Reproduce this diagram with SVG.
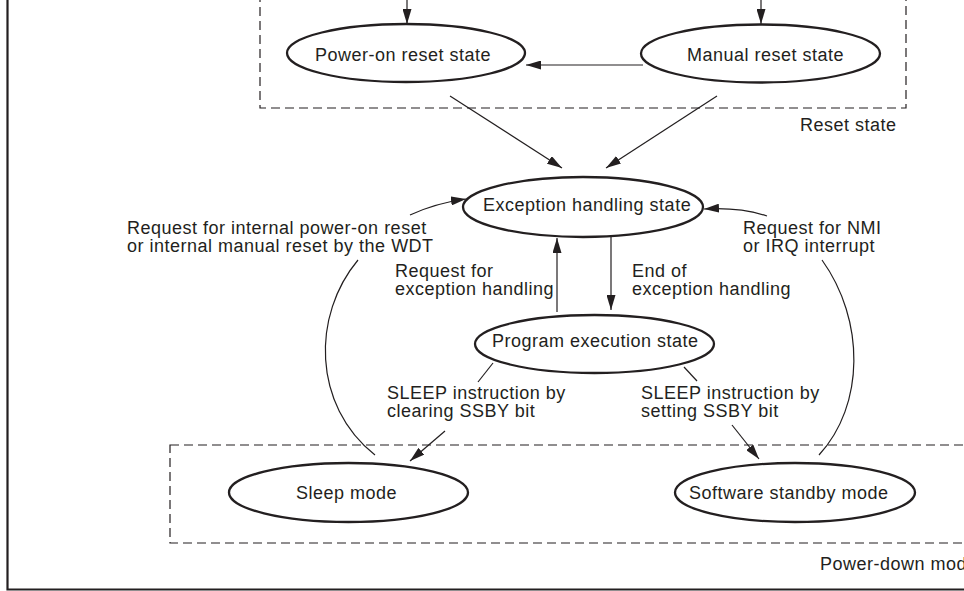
<svg xmlns="http://www.w3.org/2000/svg" width="964" height="591" viewBox="0 0 964 591">
<style>
text{font-family:"Liberation Sans",Arial,Helvetica,sans-serif;font-size:18px;letter-spacing:0.5px;fill:#231f20}
.st{fill:#fff;stroke:#231f20;stroke-width:2.3}
.cn{fill:none;stroke:#231f20;stroke-width:1.2}
.dash{fill:none;stroke:#231f20;stroke-width:1.2;stroke-dasharray:9 5}
.frame{fill:none;stroke:#231f20;stroke-width:2.2}
</style>
<defs>
<marker id="ah" viewBox="0 0 15 9" refX="15" refY="4.5" markerWidth="15" markerHeight="9" markerUnits="userSpaceOnUse" orient="auto">
<path d="M0,0 L15,4.5 L0,9 z" fill="#231f20"/>
</marker>
</defs>
<rect width="964" height="591" fill="#fff"/>
<g id="frame">
<path class="frame" d="M7.5,0 V589.5 H964"/>
</g>
<g id="reset-group">
<rect class="dash" x="260" y="-20" width="646" height="128"/>
<text x="800" y="131">Reset state</text>
</g>
<g id="powerdown-group">
<rect class="dash" x="170" y="445" width="830" height="98"/>
<text x="820" y="570">Power-down mode</text>
</g>
<g id="connectors">
<path class="cn" d="M407,0 V24" marker-end="url(#ah)"/>
<path class="cn" d="M761,0 V24" marker-end="url(#ah)"/>
<path class="cn" d="M643,65 H526" marker-end="url(#ah)"/>
<path class="cn" d="M450,96 L562,168" marker-end="url(#ah)"/>
<path class="cn" d="M717,96 L606,168" marker-end="url(#ah)"/>
<path class="cn" d="M557,312 V238" marker-end="url(#ah)"/>
<path class="cn" d="M611,237 V310" marker-end="url(#ah)"/>
<path class="cn" d="M375,455 C312,405 312,315 358,260"/>
<path class="cn" d="M410,215 Q436,203 466,199" marker-end="url(#ah)"/>
<path class="cn" d="M819,455 C865,405 865,320 822,260"/>
<path class="cn" d="M767,216 Q740,207 704,209" marker-end="url(#ah)"/>
<path class="cn" d="M493,363 L478,382"/>
<path class="cn" d="M445,431 L410,461" marker-end="url(#ah)"/>
<path class="cn" d="M684,367 L697,381"/>
<path class="cn" d="M732,425 L759,459" marker-end="url(#ah)"/>
<text x="127" y="234">Request for internal power-on reset<tspan x="127" dy="18">or internal manual reset by the WDT</tspan></text>
<text x="395" y="277">Request for<tspan x="395" dy="18">exception handling</tspan></text>
<text x="632" y="277">End of<tspan x="632" dy="18">exception handling</tspan></text>
<text x="743" y="234">Request for NMI<tspan x="743" dy="18">or IRQ interrupt</tspan></text>
<text x="387" y="399">SLEEP instruction by<tspan x="387" dy="18">clearing SSBY bit</tspan></text>
<text x="641" y="399">SLEEP instruction by<tspan x="641" dy="18">setting SSBY bit</tspan></text>
</g>
<g id="power-on-reset">
<ellipse class="st" cx="406" cy="53" rx="119" ry="29"/>
<text x="315" y="60.5">Power-on reset state</text>
</g>
<g id="manual-reset">
<ellipse class="st" cx="760.5" cy="53.5" rx="119.5" ry="29"/>
<text x="687" y="60.5">Manual reset state</text>
</g>
<g id="exception-handling">
<ellipse class="st" cx="583" cy="207" rx="120" ry="30"/>
<text x="483" y="210.5">Exception handling state</text>
</g>
<g id="program-execution">
<ellipse class="st" cx="594.5" cy="344" rx="119.5" ry="29"/>
<text x="492" y="347">Program execution state</text>
</g>
<g id="sleep-mode">
<ellipse class="st" cx="348.5" cy="492.5" rx="119.5" ry="29.5"/>
<text x="296" y="499">Sleep mode</text>
</g>
<g id="software-standby">
<ellipse class="st" cx="795" cy="492.5" rx="120" ry="29.5"/>
<text x="689" y="499">Software standby mode</text>
</g>
</svg>
